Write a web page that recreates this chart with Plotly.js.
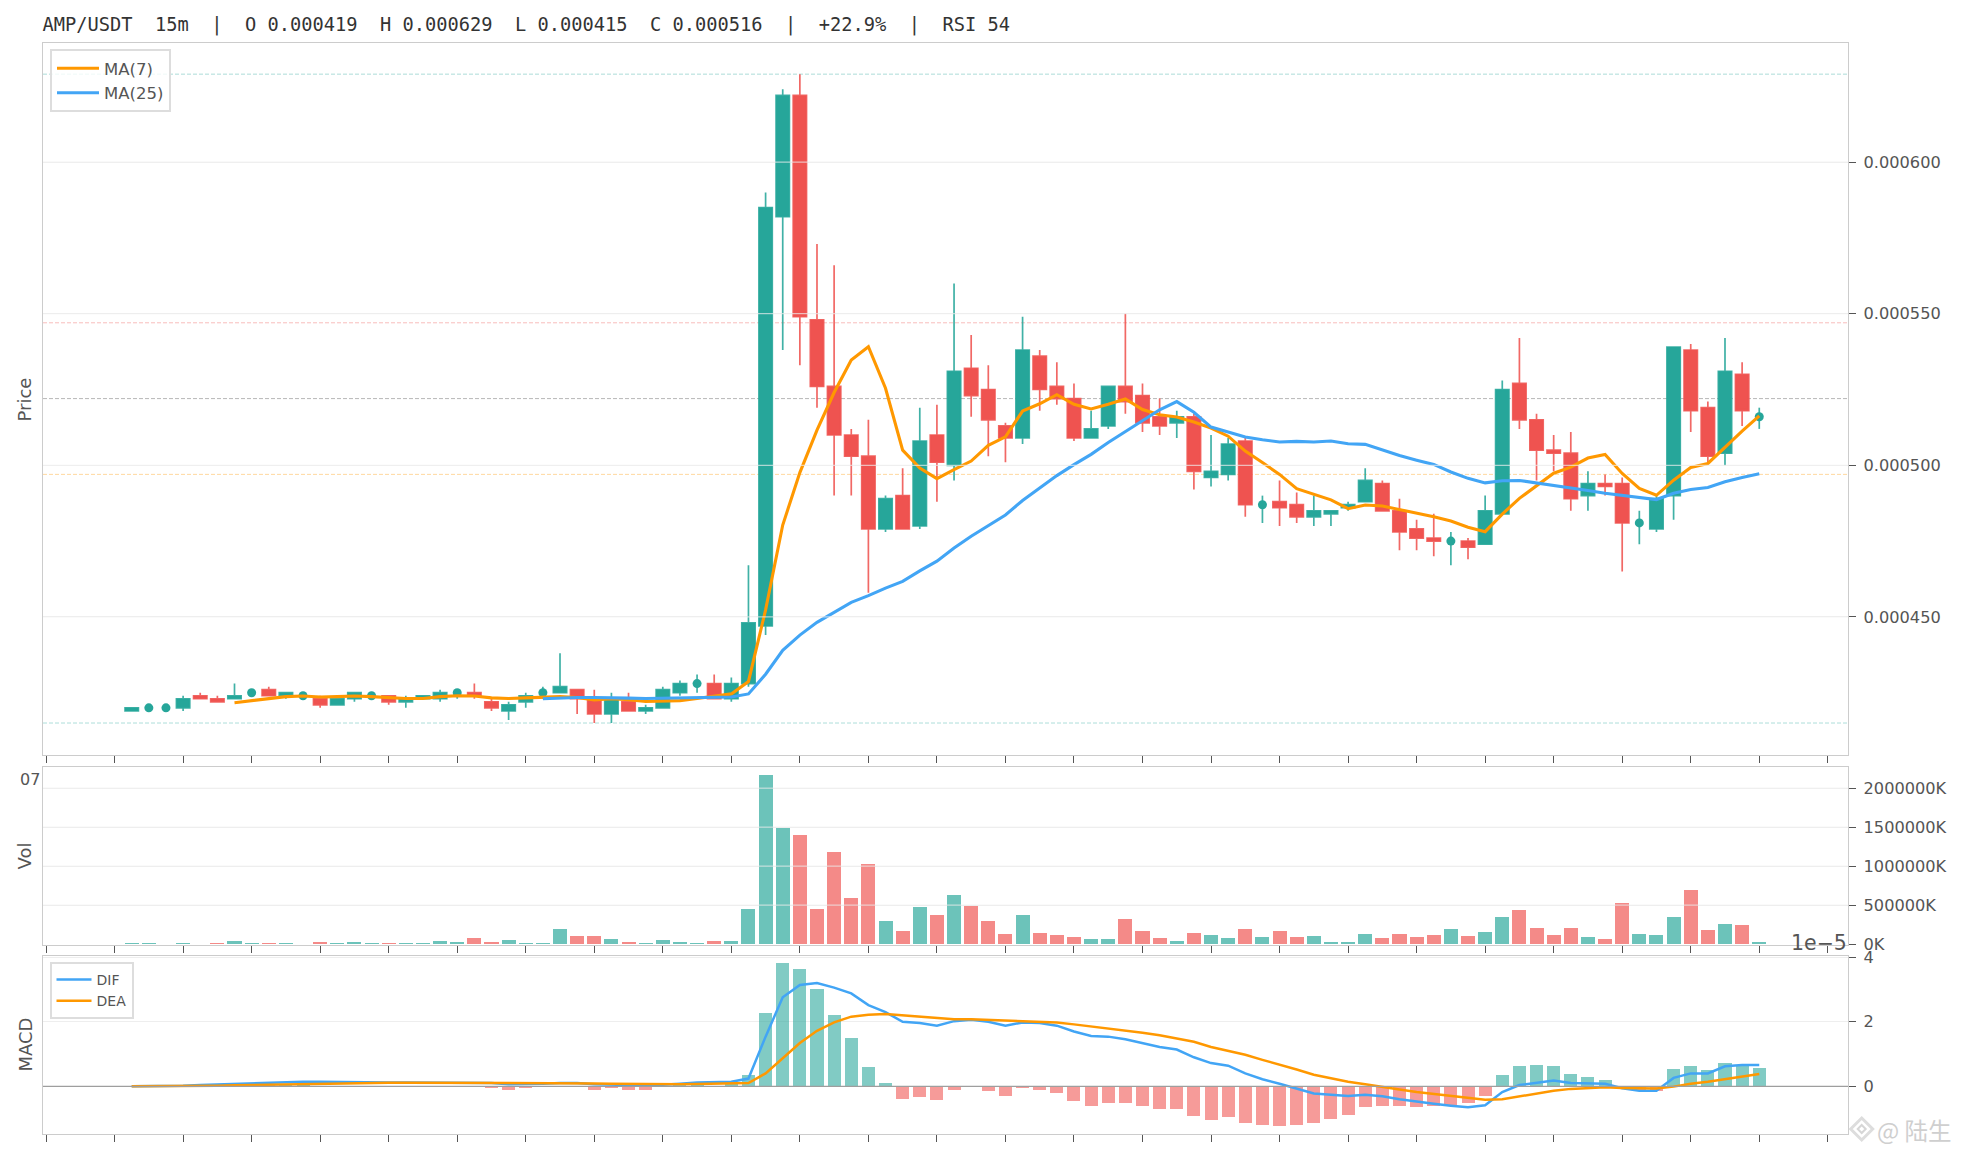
<!DOCTYPE html>
<html><head><meta charset="utf-8">
<script src="https://cdn.plot.ly/plotly-3.0.1.min.js"></script>
<style>html,body{margin:0;padding:0;background:#fff}#c{width:1962px;height:1156px}</style></head>
<body><div id="c"></div>
<script>
// prices in millionths of USDT, index = candle number (15m bars)
const opens=[419,420,420,420,424,423,423,425,426,424,424,423,421,423,424,424,422,423,423,425,425,422,419,422,425,425,426,423,418,422,419,420,425,428,428,423,428,447,582,622,548,526,510,503,479,490,480,510,500,532,525,513,509,536,526,522,509,513,526,523,516,514,516,496,497,508,487,488,487,483,484,486,488,494,485,479,476,475,475,474,484,527,515,505,504,490,494,494,481,479,490,538,519,504,530,516];
const highs=[420,420,420,424,425,424,428,425,427,425,425,424,423,425,425,424,424,424,426,426,428,423,422,425,427,438,426,426,425,425,421,427,429,431,431,430,467,590,624,629,573,566,512,515,490,499,519,520,560,543,533,514,549,538,534,527,518,526,550,527,522,518,517,510,509,509,490,495,491,490,485,488,499,495,489,482,484,478,476,490,528,542,517,510,511,498,497,496,485,490,539,540,521,542,534,519];
const lows=[419,420,420,419,423,422,423,425,424,423,423,420,421,422,423,421,420,423,422,423,423,419,416,420,423,425,418,415,415,419,418,420,424,425,423,422,427,444,538,533,519,490,490,458,478,479,479,488,495,516,503,501,507,518,520,508,509,512,517,511,510,509,492,493,495,483,481,480,481,480,480,485,488,485,472,472,470,467,469,474,484,512,495,498,485,485,490,465,474,478,482,511,501,500,513,512];
const closes=[420,420,420,423,423,422,424,425,424,425,424,421,423,425,424,422,423,424,425,425,424,420,421,424,425,427,423,418,423,419,420,426,428,428,423,428,448,585,622,549,526,510,503,479,489,479,508,501,531,523,515,509,538,525,522,509,512,526,521,514,513,516,498,498,507,487,487,486,483,485,485,487,495,485,478,476,475,475,473,485,525,515,505,504,489,494,493,481,481,489,539,518,503,531,518,516];
const ma7=[null,null,null,null,null,null,421.7,422.4,423.0,423.7,423.9,423.6,423.7,423.9,423.7,423.4,423.1,423.1,423.7,424.0,423.9,423.3,423.1,423.3,423.4,423.7,423.4,422.6,423.0,422.7,422.1,422.3,422.4,423.1,423.9,424.6,428.7,452.3,480.3,497.6,511.6,524.0,534.7,539.1,525.4,505.0,499.1,495.6,498.6,501.4,506.6,509.4,517.9,520.3,523.3,520.1,518.6,520.1,521.9,518.4,516.7,515.9,514.3,512.3,509.6,504.7,500.9,497.0,492.3,490.4,488.6,485.7,486.9,486.6,485.4,484.4,483.0,481.6,479.6,478.1,483.9,489.1,493.3,497.4,499.4,502.4,503.6,497.3,492.4,490.1,495.1,499.3,500.6,506.0,511.3,516.3];
const ma25=[null,null,null,null,null,null,null,null,null,null,null,null,null,null,null,null,null,null,null,null,null,null,null,null,423.0,423.3,423.4,423.4,423.4,423.2,423.1,423.2,423.3,423.5,423.4,423.6,424.6,431.1,439.0,444.0,448.2,451.6,454.8,457.0,459.5,461.7,465.2,468.4,472.7,476.6,480.2,483.6,488.4,492.5,496.6,500.2,503.6,507.5,511.2,514.9,518.3,521.0,517.5,512.6,510.9,509.3,508.4,507.7,507.9,507.7,508.0,507.1,506.9,505.0,503.2,501.7,500.3,497.8,495.7,494.2,494.9,495.0,494.2,493.5,492.5,491.7,490.8,490.1,489.4,488.7,490.8,492.0,492.7,494.6,496.0,497.2];
// volume in thousands
const volumes=[17000,17000,3000,17000,3000,17000,42000,17000,17000,17000,5000,30000,17000,30000,17000,17000,17000,17000,42000,30000,80000,30000,55000,17000,17000,195000,106000,106000,68000,30000,17000,55000,30000,17000,38000,38000,446000,2166000,1490000,1401000,446000,1185000,586000,1032000,293000,166000,471000,369000,624000,484000,293000,127000,369000,140000,115000,89000,64000,64000,318000,166000,76000,38000,140000,115000,76000,191000,89000,166000,89000,102000,25000,25000,127000,76000,127000,89000,115000,191000,102000,153000,344000,433000,204000,115000,204000,89000,64000,522000,127000,115000,344000,688000,178000,255000,242000,25000];
// MACD in units of 1e-5
const macdHist=[0,0,0,0.02,0.04,0.04,0.04,0.04,0.06,0.06,0.06,0.02,0.02,0.02,0.02,0,0,0,0.02,0.02,0,-0.06,-0.1,-0.06,-0.02,0.02,0,-0.1,-0.06,-0.12,-0.12,0.02,0.06,0.08,0.02,0.06,0.36,2.28,3.82,3.64,3.02,2.22,1.5,0.6,0.1,-0.4,-0.34,-0.42,-0.12,-0.02,-0.14,-0.3,-0.06,-0.12,-0.2,-0.46,-0.6,-0.52,-0.52,-0.6,-0.7,-0.7,-0.92,-1.04,-0.96,-1.14,-1.2,-1.22,-1.2,-1.14,-1.02,-0.88,-0.64,-0.6,-0.6,-0.64,-0.6,-0.6,-0.52,-0.3,0.36,0.64,0.66,0.64,0.38,0.28,0.2,-0.04,-0.14,-0.14,0.54,0.64,0.5,0.72,0.66,0.56];
const dif=[0,0,0,0.02,0.04,0.06,0.08,0.1,0.12,0.14,0.14,0.14,0.13,0.13,0.13,0.12,0.12,0.12,0.12,0.12,0.12,0.1,0.06,0.06,0.08,0.1,0.1,0.06,0.06,0.04,0.02,0.04,0.08,0.12,0.12,0.14,0.24,1.54,2.76,3.14,3.2,3.06,2.88,2.52,2.3,2.0,1.96,1.88,2.02,2.06,2.0,1.88,1.98,1.96,1.88,1.7,1.56,1.54,1.46,1.34,1.22,1.14,0.9,0.72,0.64,0.4,0.22,0.08,-0.08,-0.22,-0.26,-0.3,-0.26,-0.31,-0.4,-0.48,-0.54,-0.6,-0.65,-0.59,-0.18,0.04,0.12,0.18,0.1,0.08,0.08,-0.06,-0.14,-0.14,0.26,0.4,0.4,0.62,0.66,0.66];
const dea=[0,0,0,0,0.01,0.02,0.03,0.04,0.06,0.07,0.08,0.09,0.1,0.1,0.11,0.11,0.11,0.11,0.11,0.11,0.11,0.11,0.1,0.09,0.09,0.09,0.09,0.09,0.08,0.07,0.06,0.06,0.06,0.07,0.08,0.08,0.1,0.4,0.86,1.34,1.72,1.98,2.16,2.22,2.24,2.2,2.14,2.1,2.08,2.08,2.06,2.02,2.02,2.0,1.98,1.92,1.86,1.78,1.72,1.66,1.58,1.48,1.38,1.22,1.1,0.98,0.82,0.68,0.52,0.36,0.24,0.14,0.06,-0.03,-0.1,-0.18,-0.24,-0.32,-0.38,-0.42,-0.4,-0.31,-0.22,-0.14,-0.08,-0.05,-0.03,-0.05,-0.07,-0.07,-0.01,0.08,0.14,0.22,0.31,0.38];
// axis labels and levels
const xTicks=[-5,-1,3,7,11,15,19,23,27,31,35,39,43,47,51,55,59,63,67,71,75,79,83,87,91,95,99];
const priceTicks=[0.00045,0.0005,0.00055,0.0006];
const volTicks=[0,500000,1000000,1500000,2000000];
const volLabels=['0K','500000K','1000000K','1500000K','2000000K'];
const macdTicks=[0,2,4];
const levels=[{y:0.000629,c:'rgba(38,166,154,0.42)'},{y:0.000547,c:'rgba(239,83,80,0.42)'},{y:0.000522,c:'rgba(110,110,110,0.55)'},{y:0.000497,c:'rgba(255,152,0,0.42)'},{y:0.000415,c:'rgba(38,166,154,0.42)'}];
const titleText='AMP/USDT  15m  |  O 0.000419  H 0.000629  L 0.000415  C 0.000516  |  +22.9%  |  RSI 54';

const UP='#26A69A',DOWN='#EF5350',MA7C='#FF9800',MA25C='#42A5F5',TXT='#555555',GRID='#eeeeee',SPINE='#cccccc';
const W=1962,H=1156,px=v=>v/W,py=v=>1-v/H;
const idx=closes.map((_,i)=>i);
const P=a=>a.map(v=>v==null?null:v*1e-6);
const isDoji=i=>opens[i]===closes[i];
const body=idx.filter(i=>!isDoji(i)), doji=idx.filter(isDoji);
const pick=(a,ids)=>ids.map(i=>a[i]);
const isUp=i=>closes[i]>=opens[i];

const traces=[
 {type:'candlestick',x:body,open:P(pick(opens,body)),high:P(pick(highs,body)),low:P(pick(lows,body)),close:P(pick(closes,body)),
  xaxis:'x',yaxis:'y',showlegend:false,hoverinfo:'skip',whiskerwidth:0,
  increasing:{line:{color:'rgba(38,166,154,0.88)',width:1.7},fillcolor:UP},
  decreasing:{line:{color:'rgba(239,83,80,0.88)',width:1.7},fillcolor:DOWN}},
 {type:'scatter',mode:'markers',x:doji,y:P(pick(closes,doji)),xaxis:'x',yaxis:'y',showlegend:false,hoverinfo:'skip',
  marker:{color:UP,size:9},
  error_y:{type:'data',symmetric:false,array:P(doji.map(i=>highs[i]-closes[i])),arrayminus:P(doji.map(i=>closes[i]-lows[i])),color:'rgba(38,166,154,0.88)',thickness:1.7,width:0}},
 {type:'scatter',mode:'lines',name:'MA(7)',x:idx,y:P(ma7),xaxis:'x',yaxis:'y',line:{color:MA7C,width:3.1},legend:'legend',hoverinfo:'skip'},
 {type:'scatter',mode:'lines',name:'MA(25)',x:idx,y:P(ma25),xaxis:'x',yaxis:'y',line:{color:MA25C,width:3.1},legend:'legend',hoverinfo:'skip'},
 {type:'bar',x:idx,y:volumes,xaxis:'x2',yaxis:'y2',width:0.82,showlegend:false,hoverinfo:'skip',
  marker:{color:idx.map(i=>isUp(i)?'rgba(38,166,154,0.68)':'rgba(239,83,80,0.68)'),line:{width:0}}},
 {type:'bar',x:idx,y:macdHist,xaxis:'x3',yaxis:'y3',width:0.76,showlegend:false,hoverinfo:'skip',
  marker:{color:macdHist.map(v=>v>=0?'rgba(38,166,154,0.58)':'rgba(239,83,80,0.58)'),line:{width:0}}},
 {type:'scatter',mode:'lines',name:'DIF',x:idx,y:dif,xaxis:'x3',yaxis:'y3',line:{color:MA25C,width:2.5},legend:'legend2',hoverinfo:'skip'},
 {type:'scatter',mode:'lines',name:'DEA',x:idx,y:dea,xaxis:'x3',yaxis:'y3',line:{color:MA7C,width:2.5},legend:'legend2',hoverinfo:'skip'}
];

const xDom=[px(43),px(1848)],xRange=[-5.178,100.18];
const xa=(anchor)=>({domain:xDom,range:xRange,anchor,tickmode:'array',tickvals:xTicks,showticklabels:false,ticks:'outside',ticklen:7,tickwidth:1,tickcolor:TXT,
  showgrid:false,zeroline:false,showline:true,mirror:true,linecolor:SPINE,linewidth:1.3,rangeslider:{visible:false}});
const ya=(anchor,dom,range,extra)=>Object.assign({domain:dom,range,anchor,side:'right',tickmode:'array',ticks:'outside',ticklen:7,tickwidth:1,tickcolor:TXT,
  tickfont:{family:'DejaVu Sans',size:16.2,color:TXT},ticklabelstandoff:4,showgrid:true,gridcolor:GRID,gridwidth:1,zeroline:false,showline:true,mirror:true,linecolor:SPINE,linewidth:1.3},extra);

const shapes=[];
levels.forEach(l=>shapes.push({type:'line',layer:'below',xref:'x domain',yref:'y',x0:0,x1:1,y0:l.y,y1:l.y,line:{color:l.c,width:0.9,dash:'4px,2px'}}));
priceTicks.forEach(v=>shapes.push({type:'line',layer:'above',xref:'x domain',yref:'y',x0:0,x1:1,y0:v,y1:v,line:{color:'rgba(238,238,238,0.85)',width:1}}));
volTicks.slice(1).forEach(v=>shapes.push({type:'line',layer:'above',xref:'x2 domain',yref:'y2',x0:0,x1:1,y0:v,y1:v,line:{color:'rgba(238,238,238,0.85)',width:1}}));
shapes.push({type:'line',layer:'above',xref:'x3 domain',yref:'y3',x0:0,x1:1,y0:0,y1:0,line:{color:'#9e9e9e',width:1.3}});
// watermark logo
const diamond=(cx,cy,r)=>`M ${px(cx)} ${py(cy-r)} L ${px(cx+r)} ${py(cy)} L ${px(cx)} ${py(cy+r)} L ${px(cx-r)} ${py(cy)} Z`;
shapes.push({type:'path',layer:'above',xref:'paper',yref:'paper',path:diamond(1861.7,1129,11),line:{color:'#dddddd',width:3},fillcolor:'rgba(0,0,0,0)'});
shapes.push({type:'path',layer:'above',xref:'paper',yref:'paper',path:diamond(1861.7,1129,4),line:{color:'#d6d6d6',width:2},fillcolor:'rgba(0,0,0,0)'});

const sideLabel=(text,x,y)=>({text,xref:'paper',yref:'paper',x:px(x),y:py(y),textangle:-90,showarrow:false,xanchor:'center',yanchor:'middle',font:{family:'DejaVu Sans',size:18,color:TXT}});
const annotations=[
 sideLabel('Price',24.5,400),sideLabel('Vol',23.5,856),sideLabel('MACD',24.5,1045),
 {text:'07',xref:'paper',yref:'paper',x:px(42),y:py(779),xanchor:'right',yanchor:'middle',showarrow:false,font:{family:'DejaVu Sans',size:16,color:TXT}},
 {text:'1e\u22125',xref:'paper',yref:'paper',x:px(1848.5),y:py(943),xanchor:'right',yanchor:'middle',showarrow:false,font:{family:'DejaVu Sans',size:20.5,color:TXT}},
 {text:'@ 陆生',xref:'paper',yref:'paper',x:px(1954),y:py(1130),xanchor:'right',yanchor:'middle',showarrow:false,font:{family:'Noto Sans CJK SC',size:23.5,color:'#cfcfcf'}}
];

const layout={width:W,height:H,autosize:false,margin:{l:0,r:0,t:0,b:0},paper_bgcolor:'#fff',plot_bgcolor:'#fff',
 bargap:0,barmode:'overlay',boxgap:0.22,boxgroupgap:0,hovermode:false,dragmode:false,
 title:{text:titleText,xref:'paper',yref:'paper',x:px(42.4),xanchor:'left',y:py(24.5),yanchor:'middle',font:{family:'DejaVu Sans Mono',size:18.7,color:'#333333'}},
 xaxis:xa('y'),xaxis2:xa('y2'),xaxis3:xa('y3'),
 yaxis:ya('x',[py(754.7),py(43)],[0.00040455,0.00063928],{tickvals:priceTicks,tickformat:'.6f'}),
 yaxis2:ya('x2',[py(944.7),py(767.3)],[-7600,2267500],{tickvals:volTicks,ticktext:volLabels}),
 yaxis3:ya('x3',[py(1133.8),py(956.2)],[-1.473,4.034],{tickvals:macdTicks,tickformat:'d'}),
 legend:{x:px(50),y:py(49),xanchor:'left',yanchor:'top',bgcolor:'rgba(255,255,255,0.8)',bordercolor:'#dddddd',borderwidth:2,font:{family:'DejaVu Sans',size:16.5,color:TXT},itemwidth:42},
 legend2:{x:px(49.5),y:py(962),xanchor:'left',yanchor:'top',bgcolor:'rgba(255,255,255,0.8)',bordercolor:'#dddddd',borderwidth:2,font:{family:'DejaVu Sans',size:14,color:TXT},itemwidth:35},
 shapes,annotations
};
Plotly.newPlot('c',traces,layout,{displayModeBar:false,staticPlot:true});
</script></body></html>
